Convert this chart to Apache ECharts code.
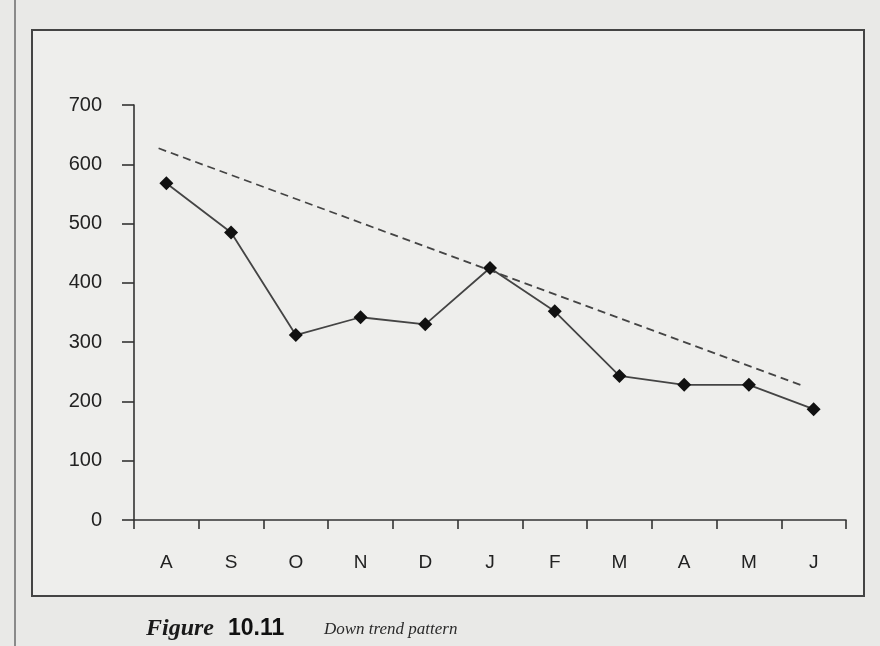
<!DOCTYPE html>
<html>
<head>
    <meta charset="utf-8">
    <title>Down trend pattern</title>
    <script src="https://cdn.jsdelivr.net/npm/echarts@6/dist/echarts.min.js"></script>
    <style>
        html, body { margin: 0; padding: 0; background: #e9e9e7; }
    </style>
</head>
<body>
<div id="main" style="width: 880px;height:646px;"></div>
<script type="text/javascript">
    // data
    var months = ['A', 'S', 'O', 'N', 'D', 'J', 'F', 'M', 'A', 'M', 'J'];
    var prices = [568, 485, 312, 342, 330, 425, 352, 243, 228, 228, 187];
    var yTicks = [0, 100, 200, 300, 400, 500, 600, 700];
    // trend line ends: [category position, value]
    var trendX = [-0.12, 9.82];
    var trendY = [627, 227];

    var trendData = [];
    for (var i = 0; i < trendX.length; i++) {
        trendData.push([trendX[i], trendY[i]]);
    }

    var myChart = echarts.init(document.getElementById('main'));

    var option = {
        backgroundColor: '#e9e9e7',
        animation: false,
        textStyle: { fontFamily: 'Liberation Sans, Arial, sans-serif' },
        graphic: [
            // page edge of the scan
            { type: 'line', shape: { x1: 15, y1: 0, x2: 15, y2: 646 },
              style: { stroke: '#8a8a8a', lineWidth: 2 } },
            // frame round the figure
            { type: 'rect', shape: { x: 32, y: 30, width: 832, height: 566 },
              style: { fill: '#eeeeec', stroke: '#444', lineWidth: 2 }, z: -1 },
            { type: 'text', left: 146, top: 617,
              style: { text: 'Figure', font: 'italic bold 24px "Liberation Serif", serif', fill: '#1a1a1a' } },
            { type: 'text', left: 228, top: 617,
              style: { text: '10.11', font: 'bold 23px "Liberation Sans", sans-serif', fill: '#111' } },
            { type: 'text', left: 324, top: 621,
              style: { text: 'Down trend pattern', font: 'italic 17px "Liberation Serif", serif', fill: '#2a2a2a' } }
        ],
        grid: { left: 134, right: 34, top: 105, bottom: 126 },
        xAxis: [
            {
                type: 'category',
                data: months,
                boundaryGap: true,
                axisLine: { lineStyle: { color: '#333', width: 1.6 } },
                axisTick: { show: true, length: 9, lineStyle: { color: '#333', width: 1.6 } },
                axisLabel: { color: '#222', fontSize: 19, margin: 33 },
                splitLine: { show: false }
            },
            {
                type: 'value',
                min: -0.5,
                max: 10.5,
                show: false
            }
        ],
        yAxis: {
            type: 'value',
            min: yTicks[0],
            max: yTicks[yTicks.length - 1],
            interval: 100,
            axisLine: { show: true, onZero: false, lineStyle: { color: '#333', width: 1.6 } },
            axisTick: { show: true, length: 12, lineStyle: { color: '#333', width: 1.6 } },
            axisLabel: { color: '#222', fontSize: 20, margin: 32 },
            splitLine: { show: false }
        },
        series: [
            {
                name: 'price',
                type: 'line',
                data: prices,
                symbol: 'diamond',
                symbolSize: 14,
                itemStyle: { color: '#111' },
                lineStyle: { color: '#444', width: 1.8 }
            },
            {
                name: 'trend',
                type: 'line',
                xAxisIndex: 1,
                data: trendData,
                symbol: 'none',
                lineStyle: { color: '#444', width: 1.8, type: [8, 5] }
            }
        ]
    };

    myChart.setOption(option);
</script>
</body>
</html>
